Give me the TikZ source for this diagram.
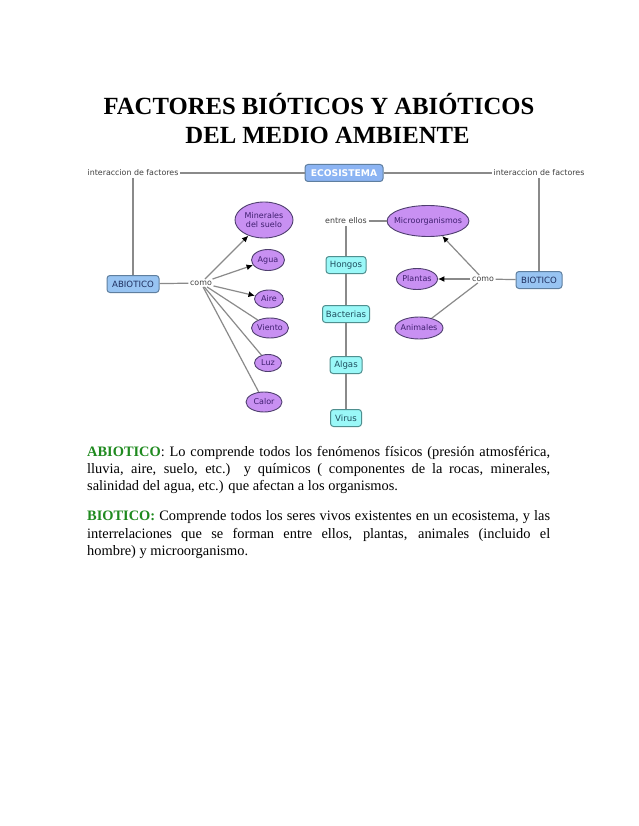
\documentclass[tikz,border=0pt]{standalone}
\usepackage{fontspec}
\setmainfont{Liberation Serif}
\newfontfamily\mapfont{DejaVu Sans}
\usetikzlibrary{positioning,arrows.meta,shapes.geometric}
\definecolor{cajaazul}{HTML}{98C4F2}
\definecolor{bordeazul}{HTML}{5F7F9F}
\definecolor{textoazul}{HTML}{1F2F5F}
\definecolor{cajacian}{HTML}{9AF8F8}
\definecolor{bordecian}{HTML}{4F8F8F}
\definecolor{textocian}{HTML}{1F4F5F}
\definecolor{lila}{HTML}{C890F2}
\definecolor{bordelila}{HTML}{4F3F6F}
\definecolor{textolila}{HTML}{3F1F6F}
\definecolor{linkgris}{HTML}{8A8A8A}
\definecolor{verdetit}{HTML}{1F8A1F}
\tikzset{
  flowarrow/.style={draw=linkgris, line width=1.2pt, -{Latex[length=6.5pt, width=6pt, color=black]}},
  plainlink/.style={draw=linkgris, line width=1.2pt},
  conceptbox/.style={draw=bordeazul, rounded corners=3pt, line width=1pt, fill=cajaazul, minimum height=17pt, inner xsep=3pt, text=textoazul, font=\mapfont\fontsize{8.6}{10}\selectfont},
  grupobox/.style={draw=bordecian, rounded corners=3pt, line width=1pt, fill=cajacian, minimum height=17pt, inner xsep=3pt, text=textocian, font=\mapfont\fontsize{8.6}{10}\selectfont},
  elemento/.style={ellipse, draw=bordelila, line width=0.9pt, fill=lila, inner xsep=-5pt, inner ysep=-1pt, text=textolila, align=center, font=\mapfont\fontsize{8}{9.5}\selectfont},
  linklabel/.style={fill=white, inner sep=1.5pt, text=black!75, font=\mapfont\fontsize{7.9}{9}\selectfont}
}

\begin{document}
\begin{tikzpicture}[x=1pt, y=-1pt]
  \useasboundingbox[fill=white] (0,0) rectangle (638,826);

  % titulo
  \node[anchor=base, font=\bfseries\fontsize{24.7}{28}\selectfont] (tit1) at (319,115) {FACTORES BIÓTICOS Y ABIÓTICOS};
  \node[anchor=base, font=\bfseries\fontsize{24.7}{28}\selectfont] (tit2) at (327.5,144) {DEL MEDIO AMBIENTE};

  % mapa conceptual
  \node[conceptbox, minimum width=78pt, fill=cajaazul!92!blue, text=white, font=\mapfont\bfseries\fontsize{9.2}{10}\selectfont] (ecosistema) at (344,173) {ECOSISTEMA};
  \node[linklabel] (intizq) at (133,173) {interaccion de factores};
  \node[linklabel] (intder) at (539,173) {interaccion de factores};
  \node[conceptbox, minimum width=52pt] (abiotico) at (133,284) {ABIOTICO};
  \node[conceptbox, minimum width=46pt] (biotico) at (539,280) {BIOTICO};
  \node[linklabel] (comoizq) at (201,283) {como};
  \node[linklabel] (comoder) at (483,279) {como};
  \node[linklabel] (entre) at (346,221) {entre ellos};

  \node[elemento, minimum width=58pt, minimum height=36pt] (minerales) at (264,220) {Minerales\\del suelo};
  \node[elemento, minimum width=33pt, minimum height=21pt] (agua) at (268,260) {Agua};
  \node[elemento, minimum width=29pt, minimum height=18pt] (aire) at (269,299) {Aire};
  \node[elemento, minimum width=37pt, minimum height=20pt] (viento) at (270,328) {Viento};
  \node[elemento, minimum width=27pt, minimum height=17pt] (luz) at (268,363) {Luz};
  \node[elemento, minimum width=36pt, minimum height=20pt] (calor) at (264,402) {Calor};

  \node[elemento, minimum width=80pt, minimum height=31pt] (micro) at (428,221) {Microorganismos};
  \node[elemento, minimum width=41pt, minimum height=21pt] (plantas) at (417,279) {Plantas};
  \node[elemento, minimum width=48pt, minimum height=22pt] (animales) at (419,328) {Animales};

  \node[grupobox, minimum width=40pt] (hongos) at (346,265) {Hongos};
  \node[grupobox, minimum width=47pt] (bacterias) at (346,314) {Bacterias};
  \node[grupobox, minimum width=32pt] (algas) at (346,365) {Algas};
  \node[grupobox, minimum width=31pt] (virus) at (346,418) {Virus};

  \draw[plainlink] (intizq) -- (ecosistema) -- (intder);
  \draw[plainlink] (intizq) -- (abiotico);
  \draw[plainlink] (intder) -- (biotico);
  \draw[plainlink] (abiotico) -- (comoizq);
  \draw[plainlink] (biotico) -- (comoder);

  \foreach \dest in {minerales, agua, aire}
    \draw[flowarrow] (comoizq) -- (\dest);
  \foreach \dest in {viento, luz, calor}
    \draw[plainlink] (comoizq) -- (\dest);

  \draw[flowarrow] (comoder) -- (micro);
  \draw[flowarrow] (comoder) -- (plantas);
  \draw[plainlink] (comoder) -- (animales);

  \draw[plainlink] (entre) -- (micro);
  \draw[plainlink] (entre) -- (hongos) -- (bacterias) -- (algas) -- (virus);

  % texto
  \node[anchor=north west, text width=463pt, align=justify, inner sep=0pt, font=\fontsize{14.4}{17.2}\selectfont] (texto) at (87,446) {%
    \textcolor{verdetit}{\textbf{ABIOTICO}}: Lo comprende todos los fenómenos físicos (presión atmosférica,\linebreak
    lluvia, aire, suelo, etc.)\ \ y químicos ( componentes de la rocas, minerales,\linebreak
    salinidad del agua, etc.) que afectan a los organismos.\par
    \vspace{13pt}
    \textcolor{verdetit}{\textbf{BIOTICO:}} Comprende todos los seres vivos existentes en un ecosistema, y las\linebreak
    interrelaciones que se forman entre ellos, plantas, animales (incluido el\linebreak
    hombre) y microorganismo.\par};
\end{tikzpicture}
\end{document}
